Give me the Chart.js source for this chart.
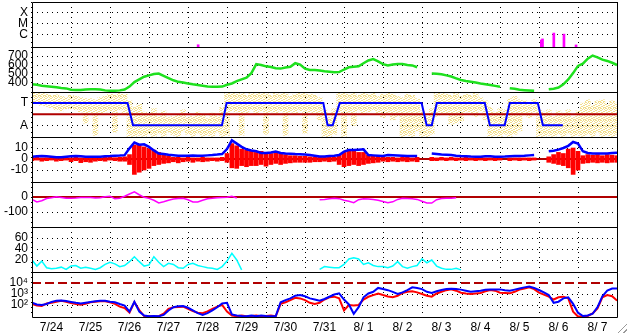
<!DOCTYPE html>
<html>
<head>
<meta charset="utf-8">
<script src="https://cdn.jsdelivr.net/npm/chart.js@4/dist/chart.umd.min.js"></script>
<style>
html,body{margin:0;padding:0;background:#fff;overflow:hidden}
#wrap{position:relative;width:628px;height:334px}
#grip{position:absolute;right:1px;bottom:1px;width:12px;height:12px;
  background:repeating-linear-gradient(135deg,transparent 0 2px,#9a9a9a 2px 3px,#fff 3px 4px);
  clip-path:polygon(100% 0,100% 100%,0 100%)}
</style>
</head>
<body>
<div id="wrap"><canvas id="c" width="628" height="334"></canvas><div id="grip"></div></div>
<script>
// ---------- categories / tick labels ----------
const DAY_LABELS = ['7/24','7/25','7/26','7/27','7/28','7/29','7/30','7/31','8/ 1','8/ 2','8/ 3','8/ 4','8/ 5','8/ 6','8/ 7'];
const STEP = 0.125; // samples every 3 hours, days since 7/24 00:00

const FLARE_TICKS = [1e-6, 1e-5, 1e-4];
const FLARE_LABELS = ['C', 'M', 'X'];
const SPEED_TICKS = [400, 500, 600, 700];
const SECTOR_TICKS = [1, -1];
const SECTOR_LABELS = ['T', 'A'];
const BZ_TICKS = [10, 0, -10];
const DST_TICKS = [0, -100];
const CYAN_TICKS = [20, 40, 60];
const FLUX_TICKS = [100, 1000, 10000];
const FLUX_LABELS = ['10\u00B2', '10\u00B3', '10\u2074'];

// ---------- panel 1: flare events (days, peak flux) ----------
const FLARE_TIMES = [4.26, 13.06, 13.09, 13.38, 13.64, 13.95];
const FLARE_PEAKS = [1.3e-7, 3.5e-7, 4.4e-7, 1.5e-6, 1.2e-6, 1.25e-7];
const FLARE_FLOOR = 8.1e-8;

// ---------- panel 2: speed ----------
const SPEED = [
 385,380,370,365,358,352,345,340,325,322,
 322,328,330,330,328,318,315,315,318,328,
 360,410,440,470,485,500,505,480,455,430,
 413,405,395,385,377,370,362,358,358,360,
 380,395,420,440,460,510,610,600,585,578,
 565,560,572,580,620,605,560,545,545,540,
 530,525,520,522,550,575,580,585,620,650,
 665,640,610,595,605,610,612,600,595,575,
 null,null,505,502,497,485,472,452,433,422,
 413,405,395,387,377,368,358,null,342,335,
 325,320,316,313,null,null,330,337,350,385,
 440,510,590,615,670,705,685,660,645,625,
 600];

// ---------- panel 3: sector (blue), angle scatter envelope (yellow) ----------
const SECTOR_TIMES = [0,2.45,2.59,4.87,4.99,7.47,7.58,7.71,7.89,9.99,10.12,10.25,10.38,11.61,11.74,12.12,12.25,12.97,13.1,13.61];
const SECTOR_VALS  = [1,1,-1,-1,1,1,-1,-1,1,1,-1,-1,1,1,-1,-1,1,1,-1,-1];
const PHI_LO = [
 0.9,1.0,0.8,0.7,0.6,0.4,0.3,0.5,0.5,0.4,
 0.2,-0.8,0.1,-1.9,0.0,0.2,0.3,-1.6,0.4,0.0,
 -2.0,-2.0,-1.9,-2.0,-1.8,-2.0,-1.7,-2.0,-1.6,-1.9,
 -2.0,-1.5,-1.8,-2.0,-1.7,-2.0,-1.9,-2.0,-1.6,-2.0,
 -1.9,0.3,0.2,-1.9,0.1,0.4,0.0,0.3,-1.8,0.2,
 0.1,0.3,-1.9,0.2,0.0,0.3,-1.7,0.2,0.1,-0.5,
 -2.0,-2.0,-1.8,0.2,-2.0,0.1,-1.0,0.3,0.0,0.2,
 0.4,0.1,-0.3,0.0,-0.5,-0.2,-2.0,-1.9,-2.0,-1.5,
 -2.0,-2.0,-1.8,-0.2,0.1,0.0,-0.9,-0.8,-0.6,0.2,
 0.1,-0.2,0.3,-0.5,-2.0,-1.9,-2.0,-1.8,-2.0,-1.8,
 -1.5,0.0,-0.3,0.2,-2.0,-2.0,-1.9,-2.0,-1.8,-2.0,
 -1.7,-2.0,-1.9,-2.0,-1.8,-2.0,-1.6,-2.0,-1.9,-2.0,
 -1.8];
const PHI_HI = [
 1.95,1.9,1.95,1.8,1.7,1.75,1.6,1.5,1.7,1.6,
 1.5,1.4,1.4,1.3,1.5,1.6,1.8,1.7,1.9,1.8,
 1.2,0.6,0.9,0.2,-0.1,0.5,-0.2,0.3,-0.3,-0.2,
 -0.1,0.4,-0.3,-0.2,0.2,-0.1,-0.4,0.1,-0.2,0.6,
 1.9,1.95,1.8,1.9,1.7,1.95,1.8,1.9,1.9,1.7,
 1.95,1.8,1.9,1.6,1.8,1.9,1.95,1.8,1.7,1.5,
 0.4,-0.3,0.5,1.9,1.95,1.8,1.9,1.7,1.95,1.8,
 1.9,1.6,1.8,1.95,1.8,1.6,1.5,1.8,1.7,1.4,
 0.3,-0.2,0.5,1.9,1.95,1.8,1.7,1.9,1.6,1.8,
 1.7,1.9,1.5,1.2,0.6,0.2,0.5,0.4,1.4,1.6,
 1.3,1.2,1.0,1.3,0.4,0.2,0.4,-0.2,0.3,0.1,
 0.4,-0.3,0.3,1.0,1.3,0.8,1.2,1.3,0.9,1.2,
 1.0];

// ---------- panel 4: Bt (blue) and Bz envelope (red) ----------
const BT = [
 2,2.5,2.7,2.5,2,1.5,1.5,2,2.5,2.7,
 2.5,2,2,2,2,2.5,2.7,3,3.2,3.5,
 9.7,15,13,13.3,11,7.8,5,4.5,3.8,3.5,
 3,3,3,3.2,3,3,3.3,3.6,4,4.5,
 9,17,14,11,8.8,7.8,7,5.5,5.5,6,
 6.7,5.5,5,4.8,4.5,4.3,4,3.6,3,2.2,
 2.2,2.7,3,3.6,6.7,8.2,8.2,8.5,8.8,3.6,
 3.3,3,2.7,3.6,3.4,3.2,3,2.8,2.7,2.7,
 null,null,5,4.5,4,3.8,3.6,3,2.7,2.5,
 2.2,2,2,2.5,2.5,2,2,2.2,2.5,2.7,
 2.8,3,3.3,3.6,null,null,7,7.5,8.5,10,
 12,15.5,14,7,5.5,5,5,5,5,5.5,
 5.8];
const BZ_LO = [
 -1.5,-1,-2,-1.5,-1,-2,-1.5,-1,-2.4,-1.5,
 -3.3,-2.5,-3,-2,-1.5,-2,-1,-1.5,-2,-2,
 -5,-14,-12,-10,-8.5,-6,-5,-4,-3.5,-2.5,
 -3.5,-2.5,-2,-3,-2,-2.5,-2,-1.5,-2,-1.5,
 -3,-8,-8.5,-6,-7,-6,-6,-5,-6.5,-5,
 -4,-5,-4,-3.5,-3,-3,-3,-3,-2.5,-2.5,
 -2,-2.5,-2,-5,-7,-6,-5,-6,-5,-4,
 -3.5,-3,-2,-2.5,-2,-2.5,-2,-2.5,-2,-2.5,
 null,null,-1.5,-1.5,-1,-1.5,-1,-1.5,-1,-1.5,
 -1,-1.5,-1,-1.5,-1,-1.5,-1,null,-1.5,-1,
 -1.5,-1,-1.5,-1,null,null,-3,-4,-5,-6,
 -8,-14,-10,-4,-3.5,-3,-3.5,-3,-3.5,-3,
 -3];
const BZ_HI = [
 1.5,1.5,1,1.2,1.5,1,1,1.5,1,1.5,
 1,1.2,1,1.5,1,1.5,1.5,1.2,1.5,2,
 4,12.7,12.5,11,9.5,8,6,4,3,1.5,
 1.5,1,1.5,1,1,1.5,1,1,1,1.5,
 5,14,12,9,8,7,6,7,6,5,
 6,5,4,3,3,2.5,2.5,2,2,2,
 2,2,1.5,4,6,7,7,6,6,3.5,
 2.5,2.5,1.5,1.5,1.5,1,1.5,1.5,1,1.5,
 null,null,1.5,1,1.5,1,1.5,1,1,1.5,
 1,1,1.5,1,1,1.5,1,null,1,1,
 1,1,1,1,null,null,2,4,6,5,
 9,10,7,3,4,3.5,4,3,4,3.5,
 3];

// ---------- panel 5: magenta index ----------
const DST = [
 -16,-33,-25,-10,-5,2,-3,-8,-8,-7,
 -3,-3,-4,-7,-5,2,5,-12,-8,5,
 20,34,15,-2,-9,-22,-40,-32,-22,-14,
 -10,-9,-18,-33,-33,-22,-12,-9,-5,-3,
 -2,5,-7,null,null,null,null,null,null,null,
 null,null,null,null,null,null,null,null,null,-18,
 -16,-12,-9,-11,-22,-29,-38,-18,-11,-13,
 -16,-22,-30,-38,-32,-16,-9,-10,-11,-16,
 -28,-40,-40,-18,-10,-9,-9,-5,null,null,
 null,null,null,null,null,null,null,null,null,null,
 null,null,null,null,null,null,null,null,null,null,
 null,null,null,null,null,null,null,null,null,null,
 null];

// ---------- panel 6: cyan index ----------
const CYAN = [
 20,9,18,6,4,5,7,3,9,10,
 5,7,5,3,6,12,16,13,8,10,
 17,26,17,9,11,26,16,8,14,12,
 6,5,12,14,10,8,6,5,3,8,
 18,32,20,2,null,null,null,null,null,null,
 null,null,null,null,null,null,null,null,null,3,
 8,7,6,6,12,22,24,22,12,15,
 10,8,8,6,9,17,8,5,8,10,
 22,15,20,9,5,3,3,5,2,null,
 null,null,null,null,null,null,null,null,null,null,
 null,null,null,null,null,null,null,null,null,null,
 null,null,null,null,null,null,null,null,null,null,
 null];

// ---------- panel 7: particle flux (log) ----------
const FLUX_BLUE = [
 160,110,100,125,190,250,260,230,190,160,
 140,160,185,215,245,245,200,180,125,90,
 25,200,25,11,9.5,10,9.5,12.6,32,63,
 76,80,56,32,18,12.6,18,32,63,140,
 160,14,11,10,9.5,11,9.5,11,10,9.5,
 10,178,280,400,700,800,630,400,315,250,
 355,560,890,1150,315,112,16,63,500,1120,
 1580,3550,2800,2240,1580,1000,1400,2300,4000,3550,
 2800,1580,1260,1780,2300,2800,3000,2800,2500,2000,
 1580,1780,2000,2400,2630,2630,2630,2240,2000,2500,
 3160,4000,4700,3550,2300,1400,800,160,200,400,
 500,126,20,10,11,16,63,630,2000,3160,
 3160];
const FLUX_RED = [
 123,90,81,140,160,200,245,200,150,120,
 107,130,175,200,215,215,180,126,71,52,
 20,180,35,10,9.5,9.5,9.5,16,45,63,
 66,71,45,28,20,18,26,45,71,100,
 25,11,9.5,11,9.5,10,11,9.5,10,11,
 9.5,126,180,280,450,400,280,160,126,160,
 315,500,575,400,32,100,89,100,315,560,
 800,1120,800,600,500,700,1260,1580,1780,1400,
 1000,700,575,1120,1580,2240,2630,2000,1320,1120,
 1000,1120,1260,1780,2300,2000,1320,1260,1150,1580,
 2500,3160,4000,2800,1320,890,575,315,500,575,
 400,25,8.9,8.9,10,17,50,500,800,630,
 250];
const FLUX_ALERT = 10000;

// ---------- helpers ----------
const series = vals => vals.map((v, i) => ({x: i * STEP, y: v}));
const bands = (lo, hi) => lo.map((l, i) => ({x: i * STEP, y: [l, hi[i]]})).filter(p => p.y[0] !== null);
const hline = v => [{x: 0, y: v}, {x: DAY_LABELS.length, y: v}];

const FONT = {family: "'Liberation Sans', Arial, sans-serif", size: 12};
const DOT = [1, 4];
const CLEAR = 'rgba(0,0,0,0)';

// speckled fill, imitating the dense point cloud of the angle plot
function speckle(color) {
  const c = document.createElement('canvas');
  c.width = 5; c.height = 6;
  const g = c.getContext('2d');
  g.fillStyle = color;
  [[0,0],[1,0],[3,0],[2,1],[4,1],[0,2],[1,2],[3,3],[4,3],[1,4],[2,4],[0,5],[3,5],[4,5]]
    .forEach(p => g.fillRect(p[0], p[1], 1, 1));
  return g.createPattern(c, 'repeat');
}

function noPad(s) { s.paddingTop = 0; s.paddingBottom = 0; s.paddingLeft = 0; s.paddingRight = 0; }

function panel(stackOrder, min, max, ticks, labelFn, hideGridAt, extra) {
  return Object.assign({
    type: 'linear',
    position: 'left',
    stack: 'panels',
    stackWeight: 1,
    weight: stackOrder,
    min: min, max: max,
    afterBuildTicks: s => { s.ticks = ticks.map(v => ({value: v})); },
    afterFit: s => { s.width = 32; noPad(s); },
    border: {display: false, dash: DOT},
    grid: {
      drawTicks: false, lineWidth: 1,
      color: c => (c.tick && hideGridAt.includes(c.tick.value)) ? CLEAR : '#000'
    },
    ticks: {autoSkip: false, padding: 4, color: '#000', font: FONT, callback: labelFn}
  }, extra || {});
}

const framePlugin = {
  id: 'frame',
  afterDatasetsDraw(chart) {
    const {ctx, chartArea: a} = chart;
    ctx.save();
    ctx.strokeStyle = '#000';
    ctx.lineWidth = 1;
    ctx.beginPath();
    const L = Math.round(a.left) + 0.5, R = Math.round(a.right) + 0.5;
    const T = Math.round(a.top) + 0.5, B = Math.round(a.bottom) + 0.5;
    ctx.rect(L, T, R - L, B - T);
    ['p2','p3','p4','p5','p6','p7'].forEach(id => {
      const y = Math.round(chart.scales[id].top) + 0.5;
      ctx.moveTo(L, y); ctx.lineTo(R, y);
    });
    ctx.stroke();
    ctx.restore();
  }
};

const lineDs = (data, y, color, width, extra) => Object.assign({
  type: 'line', data: data, yAxisID: y, xAxisID: 'x',
  borderColor: color, borderWidth: width, pointRadius: 0, tension: 0, spanGaps: false, fill: false
}, extra || {});
const barDs = (data, y, color, thick) => ({
  type: 'bar', data: data, yAxisID: y, xAxisID: 'x', backgroundColor: color,
  borderWidth: 0, barThickness: thick, grouped: false
});

const HALF_TICKS = [];
for (let k = 0; k <= DAY_LABELS.length * 2; k++) HALF_TICKS.push(k / 2);

new Chart(document.getElementById('c'), {
  type: 'line',
  data: {
    datasets: [
      // panel 1
      barDs(FLARE_TIMES.map((t, i) => ({x: t, y: [FLARE_FLOOR, FLARE_PEAKS[i]]})), 'p1', '#ff00ff', 2),
      // panel 2
      lineDs(series(SPEED), 'p2', '#1ee01e', 2.5),
      // panel 3
      lineDs(SECTOR_TIMES.map((t, i) => ({x: t, y: SECTOR_VALS[i]})), 'p3', '#0000ff', 2),
      lineDs(hline(0), 'p3', '#b00000', 2),
      barDs(bands(PHI_LO, PHI_HI), 'p3', speckle('#f3df8c'), 5),
      // panel 4
      lineDs(series(BT), 'p4', '#0000ff', 2.5),
      barDs(bands(BZ_LO, BZ_HI), 'p4', '#ff0000', 4),
      lineDs(hline(0), 'p4', '#b00000', 2),
      // panel 5
      lineDs(series(DST), 'p5', '#ff00ff', 1.5),
      lineDs(hline(0), 'p5', '#b00000', 2),
      // panel 6
      lineDs(series(CYAN), 'p6', '#00ffff', 1.5),
      // panel 7
      lineDs(series(FLUX_BLUE), 'p7', '#0000ff', 2),
      lineDs(series(FLUX_RED), 'p7', '#ff0000', 2),
      lineDs(hline(FLUX_ALERT), 'p7', '#b00000', 2, {borderDash: [9, 4]})
    ]
  },
  options: {
    responsive: false,
    animation: false,
    devicePixelRatio: 1,
    events: [],
    layout: {padding: {top: 2, right: 11, left: 0, bottom: 0}},
    plugins: {legend: {display: false}, tooltip: {enabled: false}},
    scales: {
      x: {
        type: 'linear', position: 'bottom', min: 0, max: DAY_LABELS.length, offset: false,
        afterBuildTicks: s => { s.ticks = HALF_TICKS.map(v => ({value: v})); },
        afterFit: s => { s.height = 17; noPad(s); },
        border: {display: false, dash: DOT},
        grid: {drawTicks: false, offset: false,
          color: c => (c.tick && c.tick.value % 1 === 0) ? '#000' : CLEAR},
        ticks: {autoSkip: false, maxRotation: 0, minRotation: 0, padding: 3, color: '#000', font: FONT,
          callback: v => (v % 1 === 0.5) ? DAY_LABELS[Math.floor(v)] : ''}
      },
      p1: panel(7, 8.1e-8, 1e-3, FLARE_TICKS, v => FLARE_LABELS[FLARE_TICKS.indexOf(v)], [], {type: 'logarithmic'}),
      p2: panel(6, 300, 800, SPEED_TICKS, v => String(v), []),
      p3: panel(5, -2.05, 2, SECTOR_TICKS, v => SECTOR_LABELS[SECTOR_TICKS.indexOf(v)], []),
      p4: panel(4, -20.9, 20, BZ_TICKS, v => String(v), [0]),
      p5: panel(3, -200, 100, DST_TICKS, v => String(v), [0]),
      p6: panel(2, -1.8, 80, CYAN_TICKS, v => String(v), []),
      p7: panel(1, 8.13, 1e5, FLUX_TICKS, v => FLUX_LABELS[FLUX_TICKS.indexOf(v)], [FLUX_ALERT], {type: 'logarithmic'})
    }
  },
  plugins: [framePlugin]
});
</script>
</body>
</html>
